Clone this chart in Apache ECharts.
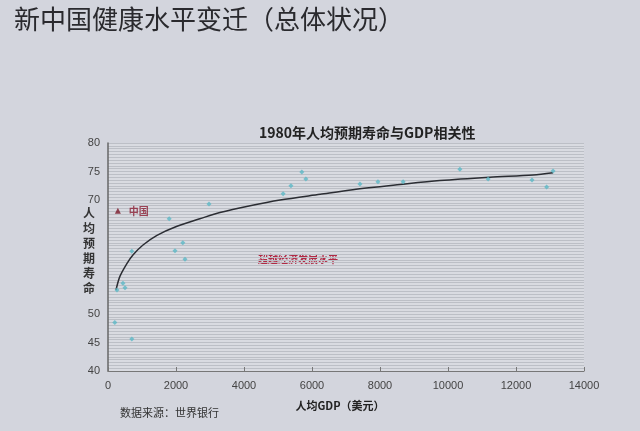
<!DOCTYPE html>
<html>
<head>
<meta charset="utf-8">
<title>1980年人均预期寿命与GDP相关性</title>
<script src="https://cdn.jsdelivr.net/npm/echarts@6/dist/echarts.min.js"></script>
<style>
  html, body { margin: 0; padding: 0; background: #d3d5dd; }
  #chart { width: 640px; height: 431px; }
</style>
</head>
<body>
<div id="chart"></div>
<script>
// 各国 1980 年人均 GDP（美元）与人均预期寿命（岁）
const gdpValues = [200, 700, 265, 440, 500, 700, 1800, 1970, 2200, 2265, 2970,
  5150, 5380, 5700, 5820, 7410, 7940, 8680, 10350, 11180, 12470, 12900, 13090]
const lifeValues = [48.5, 45.6, 54.2, 55.4, 54.6, 61.0, 66.7, 61.1, 62.5, 59.6, 69.3,
  71.1, 72.5, 74.9, 73.7, 72.8, 73.2, 73.2, 75.4, 73.7, 73.5, 72.3, 75.1]

// 趋势线（从图上读出的点）
const trendGdp = [235, 350, 560, 740, 1030, 1440, 2030, 2700, 3290, 4180, 5060,
  6240, 7200, 8590, 9760, 11230, 12500, 13090]
const trendLife = [54.2, 56.6, 58.9, 60.4, 62.1, 63.8, 65.4, 66.7, 67.8, 69.0, 70.0,
  71.0, 71.8, 72.7, 73.4, 74.0, 74.4, 74.8]

// 中国
const chinaPoint = [290, 68.1]

const xTicks = [0, 2000, 4000, 6000, 8000, 10000, 12000, 14000]
const yTicks = [40, 45, 50, 55, 60, 65, 70, 75, 80]
const hiddenYLabels = [55, 60, 65]

const font = '"Noto Sans CJK SC", "Noto Sans", sans-serif'

let mychart = echarts.init(document.getElementById('chart'))

let option = {
  backgroundColor: '#d3d5dd',
  animation: false,
  textStyle: { fontFamily: font },
  title: {
    text: '1980年人均预期寿命与GDP相关性',
    left: 254,
    top: 121,
    textStyle: { fontSize: 14, fontWeight: 'bold', color: '#222', fontFamily: font }
  },
  grid: {
    left: 108,
    right: 56,
    top: 143,
    bottom: 60,
    show: true,
    backgroundColor: '#d9dbe1',
    borderWidth: 0
  },
  xAxis: {
    type: 'value',
    min: xTicks[0],
    max: xTicks[xTicks.length - 1],
    interval: 2000,
    name: '人均GDP（美元）',
    nameLocation: 'middle',
    nameGap: 29,
    nameTextStyle: { fontSize: 11, color: '#222', fontWeight: 'bold', padding: [0, 12, 0, 0] },
    axisLine: { show: true, lineStyle: { color: '#777', width: 1 } },
    axisTick: { show: true, inside: true, length: 4, lineStyle: { color: '#777' } },
    axisLabel: { color: '#444', fontSize: 11, margin: 9, fontFamily: 'Liberation Sans', formatter: v => String(v) },
    splitLine: { show: false }
  },
  yAxis: {
    type: 'value',
    min: yTicks[0],
    max: yTicks[yTicks.length - 1],
    interval: 5,
    axisLine: { show: true, lineStyle: { color: '#666', width: 1.5 } },
    axisTick: { show: false },
    axisLabel: {
      color: '#444',
      fontSize: 11,
      margin: 8,
      fontFamily: 'Liberation Sans',
      formatter: v => (hiddenYLabels.includes(v) ? '' : String(v))
    },
    splitLine: { show: true, lineStyle: { color: '#bcbfc6', width: 1 } },
    minorTick: { show: false, splitNumber: 10 },
    minorSplitLine: { show: true, lineStyle: { color: '#bcbfc6', width: 1 } }
  },
  series: [
    {
      name: '国家',
      type: 'scatter',
      symbol: 'diamond',
      symbolSize: 5,
      itemStyle: { color: '#5bb8c6' },
      data: gdpValues.map((g, i) => [g, lifeValues[i]]),
      z: 3
    },
    {
      name: '趋势线',
      type: 'line',
      smooth: 0.3,
      showSymbol: false,
      lineStyle: { color: '#2b2d33', width: 1.5 },
      data: trendGdp.map((g, i) => [g, trendLife[i]]),
      z: 2
    },
    {
      name: '中国',
      type: 'scatter',
      symbol: 'triangle',
      symbolSize: 6,
      itemStyle: { color: '#7a1a2a' },
      label: {
        show: true,
        position: 'right',
        distance: 8,
        formatter: '中国',
        color: '#8b1d32',
        fontSize: 10,
        fontWeight: 'bold'
      },
      data: [chinaPoint],
      z: 4
    }
  ],
  graphic: [
    {
      type: 'text',
      left: 83,
      top: 206,
      style: {
        text: '人\n均\n预\n期\n寿\n命',
        fontSize: 12,
        lineHeight: 15,
        fontWeight: 'bold',
        fill: '#333',
        fontFamily: font
      }
    },
    {
      type: 'text',
      left: 258,
      top: 254,
      style: {
        text: '超越经济发展水平',
        fontSize: 10,
        fontWeight: 'bold',
        fill: '#b02a45',
        fontFamily: font
      }
    },
    {
      type: 'text',
      left: 120,
      top: 407,
      style: {
        text: '数据来源：世界银行',
        fontSize: 11,
        fill: '#333',
        fontFamily: font
      }
    },
    {
      type: 'text',
      left: 14,
      top: 6,
      style: {
        text: '新中国健康水平变迁（总体状况）',
        fontSize: 26,
        fill: '#2a2a2e',
        fontFamily: font
      }
    }
  ]
}
mychart.setOption(option)
</script>
</body>
</html>
